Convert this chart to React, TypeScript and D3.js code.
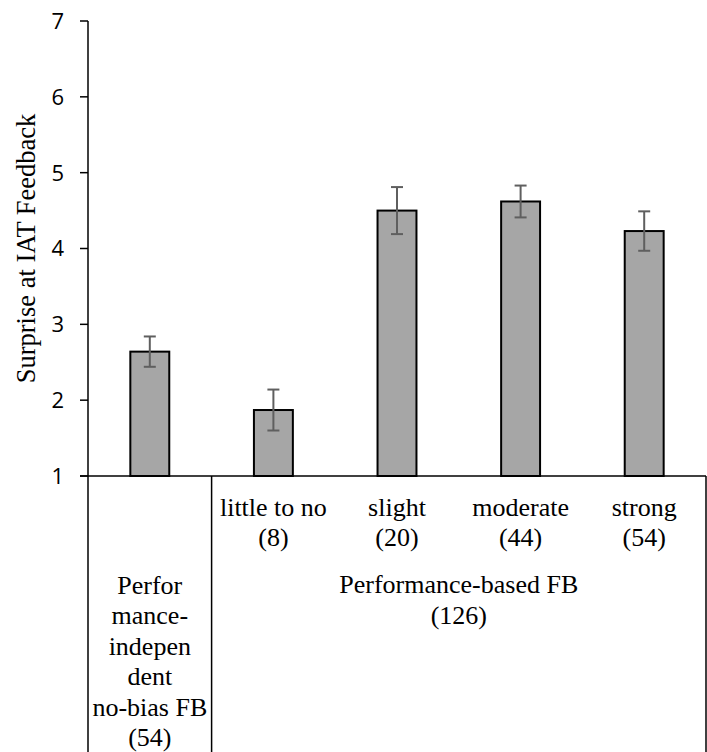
import React from "react";
import * as d3 from "d3";

const categories = ["no-bias", "little to no", "slight", "moderate", "strong"];
const subLabels = ["", "little to no", "slight", "moderate", "strong"];
const subCounts = ["", "(8)", "(20)", "(44)", "(54)"];
const means = [2.64, 1.87, 4.5, 4.62, 4.23];
const errors = [0.2, 0.27, 0.31, 0.21, 0.26];
const yTicks = [1, 2, 3, 4, 5, 6, 7];
const groupLeftLines = ["Perfor", "mance-", "indepen", "dent", "no-bias FB", "(54)"];
const groupRightLines = ["Performance-based FB", "(126)"];
const yTitle = "Surprise at IAT Feedback";

export default function App() {
  const W = 707, H = 752;
  const left = 88, right = 706, top = 21, base = 476;
  const y = d3.scaleLinear().domain([1, 7]).range([base, top]);
  const cell = d3.scaleBand<string>().domain(categories).range([left, right]).padding(0);
  const bar = d3.scaleBand<string>().domain(categories).range([left, right]).paddingInner(0.685).paddingOuter(0.685 / 2);
  const serif = "'Liberation Serif', 'Times New Roman', serif";
  const sans = "'Open Sans', 'Liberation Sans', Arial, sans-serif";
  const cx = (c: string) => (cell(c) as number) + cell.bandwidth() / 2;
  const splitX = (cell(categories[1]) as number);
  const rightCenter = (splitX + right) / 2;
  const leftCenter = cx(categories[0]);

  return (
    <svg width={W} height={H} style={{ position: "absolute", left: 0, top: 0, background: "#fff" }}>
      <rect x={0} y={0} width={W} height={H} fill="#fff" />
      <text transform={`translate(35,${(top + base) / 2}) rotate(-90)`} textAnchor="middle" style={{ fontFamily: serif, fontSize: 26.5 }} fill="#000">{yTitle}</text>
      {yTicks.map((t) => (
        <g key={t}>
          <line x1={80} x2={left} y1={y(t)} y2={y(t)} stroke="#000" strokeWidth={1.5} />
          <text x={64} y={y(t)} dy="0.36em" textAnchor="end" style={{ fontFamily: sans, fontSize: 22 }} fill="#000">{t}</text>
        </g>
      ))}
      {categories.map((c, i) => (
        <rect key={c} x={bar(c) as number} y={y(means[i])} width={bar.bandwidth()} height={base - y(means[i])} fill="#a6a6a6" stroke="#000" strokeWidth={2} />
      ))}
      {categories.map((c, i) => {
        const x = cx(c);
        const y1 = y(means[i] + errors[i]);
        const y2 = y(means[i] - errors[i]);
        return (
          <g key={c} stroke="#5f5f5f" strokeWidth={2}>
            <line x1={x} x2={x} y1={y1} y2={y2} />
            <line x1={x - 6} x2={x + 6} y1={y1} y2={y1} />
            <line x1={x - 6} x2={x + 6} y1={y2} y2={y2} />
          </g>
        );
      })}
      <line x1={left} x2={left} y1={top} y2={H} stroke="#000" strokeWidth={1.5} />
      <line x1={80} x2={right} y1={base} y2={base} stroke="#000" strokeWidth={1.5} />
      <line x1={splitX} x2={splitX} y1={base} y2={H} stroke="#000" strokeWidth={1.5} />
      <line x1={right} x2={right} y1={base} y2={H} stroke="#000" strokeWidth={1.5} />
      {categories.map((c, i) => (
        <g key={c} fill="#000">
          <text x={cx(c)} y={516} textAnchor="middle" style={{ fontFamily: serif, fontSize: 26 }}>{subLabels[i]}</text>
          <text x={cx(c)} y={546} textAnchor="middle" style={{ fontFamily: serif, fontSize: 26 }}>{subCounts[i]}</text>
        </g>
      ))}
      <g fill="#000">
        {groupLeftLines.map((l, i) => (
          <text key={l} x={leftCenter} y={594 + i * 30.4} textAnchor="middle" style={{ fontFamily: serif, fontSize: 26 }}>{l}</text>
        ))}
        {groupRightLines.map((l, i) => (
          <text key={l} x={rightCenter} y={593 + i * 31} textAnchor="middle" style={{ fontFamily: serif, fontSize: 26 }}>{l}</text>
        ))}
      </g>
    </svg>
  );
}
